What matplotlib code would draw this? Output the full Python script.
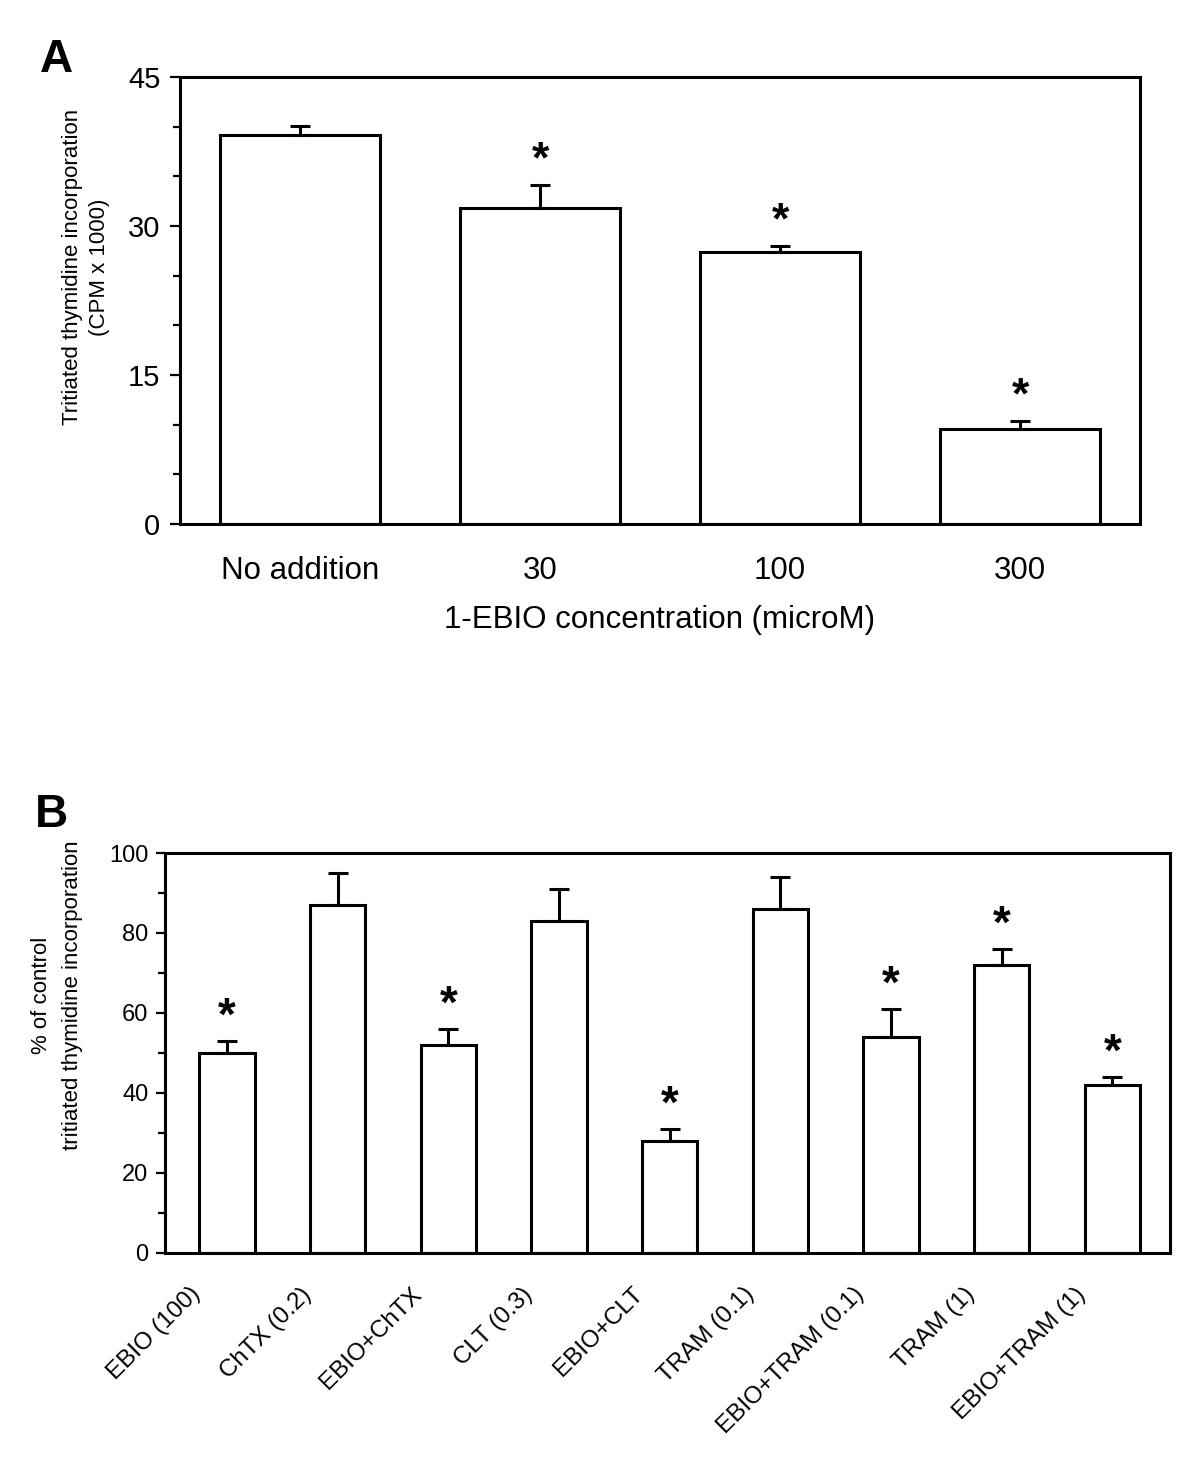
import numpy as np
import matplotlib
matplotlib.use("Agg")
import matplotlib.pyplot as plt
from matplotlib.ticker import MultipleLocator
import matplotlib.transforms as mtransforms

plt.rcParams['font.family'] = ['Liberation Sans', 'DejaVu Sans']

# panel A data
conc_labels = ["No addition", "30", "100", "300"]
cpm_mean = [39.2, 31.8, 27.4, 9.6]
cpm_sem = [0.9, 2.3, 0.6, 0.8]
cpm_sig = [False, True, True, True]

# panel B data
treat_labels = ["EBIO (100)", "ChTX (0.2)", "EBIO+ChTX", "CLT (0.3)", "EBIO+CLT",
                "TRAM (0.1)", "EBIO+TRAM (0.1)", "TRAM (1)", "EBIO+TRAM (1)"]
pct_mean = [50, 87, 52, 83, 28, 86, 54, 72, 42]
pct_sem = [3, 8, 4, 8, 3, 8, 7, 4, 2]
pct_sig = [True, False, True, False, True, False, True, True, True]

lw = 2.2

fig = plt.figure(figsize=(12, 14.84), dpi=100)

# ---------- A ----------
axA = fig.add_axes([0.15, 0.6469, 0.80, 0.3012])
x = np.arange(len(conc_labels))
axA.bar(x, cpm_mean, width=0.667, color="white", edgecolor="black", linewidth=lw, zorder=2)
axA.errorbar(x, cpm_mean, yerr=[np.zeros(len(x)), cpm_sem], fmt="none", ecolor="black",
             elinewidth=lw, capsize=7.5, capthick=lw, zorder=3)
for xi, m, s, sig in zip(x, cpm_mean, cpm_sem, cpm_sig):
    if sig:
        axA.annotate("*", (xi, m + s), xytext=(0, 9), textcoords="offset points",
                     ha="center", va="baseline", fontsize=32, fontweight="bold")
axA.set_xlim(-0.5, 3.5)
axA.set_ylim(0, 45)
axA.yaxis.set_major_locator(MultipleLocator(15))
axA.yaxis.set_minor_locator(MultipleLocator(5))
axA.set_xticks(x)
axA.set_xticklabels(conc_labels, fontsize=22.5)
axA.tick_params(axis="x", length=0, pad=23)
axA.tick_params(axis="y", which="major", direction="out", length=7.2, width=1.6, labelsize=21, pad=7)
axA.tick_params(axis="y", which="minor", direction="out", length=5, width=1.6)
axA.set_xlabel("1-EBIO concentration (microM)", fontsize=22.5, labelpad=14)
axA.set_ylabel("Tritiated thymidine incorporation\n(CPM x 1000)", fontsize=16,
               linespacing=1.35)
axA.yaxis.set_label_coords(-0.073, 0.575)
for sp in axA.spines.values():
    sp.set_linewidth(lw)
fig.text(0.033, 0.9596, "A", fontsize=33, fontweight="bold", va="center")

# ---------- B ----------
axB = fig.add_axes([0.1375, 0.1557, 0.8375, 0.2695])
xb = np.arange(len(treat_labels))
axB.bar(xb, pct_mean, width=0.5, color="white", edgecolor="black", linewidth=lw, zorder=2)
axB.errorbar(xb, pct_mean, yerr=[np.zeros(len(xb)), pct_sem], fmt="none", ecolor="black",
             elinewidth=lw, capsize=7.5, capthick=lw, zorder=3)
for xi, m, s, sig in zip(xb, pct_mean, pct_sem, pct_sig):
    if sig:
        axB.annotate("*", (xi, m + s), xytext=(0, 8), textcoords="offset points",
                     ha="center", va="baseline", fontsize=33, fontweight="bold")
axB.set_xlim(-0.56, 8.52)
axB.set_ylim(0, 100)
axB.yaxis.set_major_locator(MultipleLocator(20))
axB.yaxis.set_minor_locator(MultipleLocator(10))
axB.set_xticks([])
off = mtransforms.ScaledTranslation(-30 / 100, -38 / 100, fig.dpi_scale_trans)
for xi, lab in zip(xb, treat_labels):
    axB.text(xi, 0, lab, transform=axB.get_xaxis_transform() + off, rotation=45,
             rotation_mode="anchor", ha="right", va="center", fontsize=17.5)
axB.tick_params(axis="y", which="major", direction="out", length=6.5, width=1.6, labelsize=17, pad=5.5)
axB.tick_params(axis="y", which="minor", direction="out", length=5, width=1.6)
axB.set_ylabel("% of control\ntritiated thymidine incorporation", fontsize=16,
               linespacing=1.6)
axB.yaxis.set_label_coords(-0.082, 0.645)
for sp in axB.spines.values():
    sp.set_linewidth(lw)
fig.text(0.029, 0.4508, "B", fontsize=33, fontweight="bold", va="center")

fig.savefig("out.png", dpi=100)
